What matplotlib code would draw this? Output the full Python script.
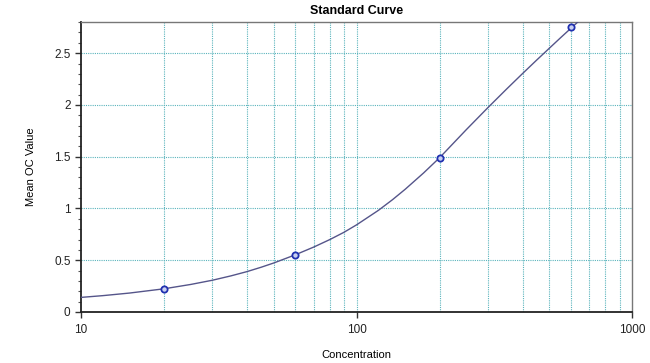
import matplotlib
matplotlib.use('Agg')
import matplotlib.pyplot as plt
from matplotlib.ticker import FixedLocator, NullFormatter, MultipleLocator

plt.rcParams['font.family'] = ['Liberation Sans', 'DejaVu Sans']

# standards (concentration, mean OD)
std_conc = [20, 60, 200, 600]
std_od = [0.225, 0.55, 1.49, 2.75]

# fitted curve
curve_conc = [10, 12, 15, 20, 25, 30, 35, 40, 45, 50, 60, 70, 80, 90, 100, 120,
              135, 150, 175, 200, 250, 300, 350, 400, 450, 500, 550, 600, 650]
curve_od = [0.141, 0.158, 0.183, 0.224, 0.266, 0.307, 0.349, 0.39, 0.432, 0.473,
            0.553, 0.628, 0.70, 0.77, 0.842, 0.982, 1.085, 1.185, 1.343, 1.49, 1.761,
            1.976, 2.153, 2.303, 2.433, 2.547, 2.650, 2.742, 2.826]

x_grid = [20, 30, 40, 50, 60, 70, 80, 90, 100, 200, 300, 400, 500, 600, 700, 800, 900]
y_grid = [0.5, 1.0, 1.5, 2.0, 2.5]

fig = plt.figure(figsize=(6.5, 3.63), dpi=100)
ax = fig.add_axes([0.1246, 0.1405, 0.848, 0.7985])

ax.set_xscale('log')
ax.set_xlim(10, 1000)
ax.set_ylim(0, 2.8)

ax.plot(curve_conc, curve_od, color='#55558a', lw=1.0, zorder=3)
ax.plot(std_conc, std_od, 'o', ms=4.5, mfc='#c8d0f0', mec='#2030b0', mew=1.3, zorder=4)

for xv in x_grid:
    ax.axvline(xv, color='#5ab4bc', lw=0.8, ls=(0, (1, 1)), zorder=1)
for yv in y_grid:
    ax.axhline(yv, color='#5ab4bc', lw=0.8, ls=(0, (1, 1)), zorder=1)

ax.xaxis.set_major_locator(FixedLocator([10, 100, 1000]))
ax.set_xticklabels(['10', '100', '1000'])
ax.xaxis.set_minor_locator(FixedLocator([]))
ax.xaxis.set_minor_formatter(NullFormatter())
ax.set_yticks([0, 0.5, 1, 1.5, 2, 2.5])
ax.set_yticklabels(['0', '0.5', '1', '1.5', '2', '2.5'])
ax.yaxis.set_minor_locator(MultipleLocator(0.1))

ax.tick_params(axis='both', which='major', direction='out', length=4, width=1,
               labelsize=8.5, color='#333333', labelcolor='#222222')
ax.tick_params(axis='y', which='minor', direction='out', length=2, width=0.8, color='#555555')
ax.tick_params(axis='x', which='major', pad=5)

for side in ['left', 'bottom']:
    ax.spines[side].set_color('#222222')
    ax.spines[side].set_linewidth(1.3)
for side in ['top', 'right']:
    ax.spines[side].set_color('#777777')
    ax.spines[side].set_linewidth(1.0)

ax.set_title('Standard Curve', fontsize=9, fontweight='bold', pad=6)
ax.set_xlabel('Concentration', fontsize=8, labelpad=10)
ax.set_ylabel('Mean OC Value', fontsize=8, labelpad=13)

fig.savefig('out.png', dpi=100)
